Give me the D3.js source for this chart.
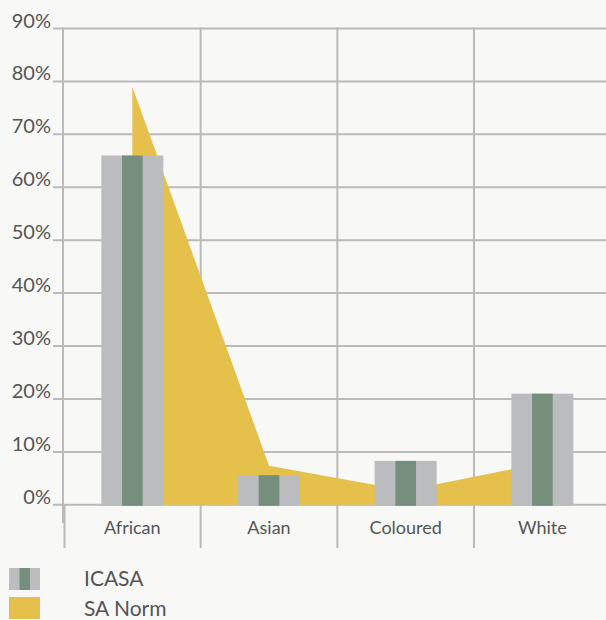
<!DOCTYPE html>
<html><head><meta charset="utf-8">
<script src="https://cdn.jsdelivr.net/npm/d3@7"></script>
<style>html,body{margin:0;padding:0;background:#f8f8f6;}svg{display:block;}</style>
</head><body>
<script>
const categories = ["African","Asian","Coloured","White"];
const icasa = [66, 5.6, 8.3, 21];
const saNorm = [79, 7.4, 2.7, 7.9];
const yTicks = [0,10,20,30,40,50,60,70,80,90];
const seriesNames = ["ICASA","SA Norm"];

const W = 606, H = 620;
const svg = d3.select("body").append("svg").attr("width", W).attr("height", H);
svg.append("rect").attr("width", W).attr("height", H).attr("fill", "#f8f8f6");

const x = d3.scaleBand().domain(categories).range([64, 610.7]).padding(0);
const y = d3.scaleLinear().domain([0, 90]).range([504.8, 28.5]);
const grid = "#bababa", font = "Lato, 'Open Sans', sans-serif", txt = "#555";

// horizontal gridlines
svg.append("g").selectAll("line").data(yTicks).join("line")
  .attr("x1", 53).attr("x2", W).attr("y1", d => y(d)).attr("y2", d => y(d))
  .attr("stroke", grid).attr("stroke-width", 2);
// vertical gridlines at band boundaries
const bounds = categories.map(c => x(c));
svg.append("g").selectAll("line").data(bounds.slice(1)).join("line")
  .attr("x1", d => d).attr("x2", d => d).attr("y1", y(90) - 1).attr("y2", 548)
  .attr("stroke", grid).attr("stroke-width", 2);
svg.append("line").attr("x1", 63).attr("x2", 63).attr("y1", y(90) - 1).attr("y2", 523)
  .attr("stroke", grid).attr("stroke-width", 2);
svg.append("line").attr("x1", 64.5).attr("x2", 64.5).attr("y1", y(0)).attr("y2", 548)
  .attr("stroke", grid).attr("stroke-width", 2);

// SA Norm area
const cx = c => x(c) + x.bandwidth() / 2;
const area = d3.area().x((d, i) => cx(categories[i])).y0(y(0)).y1(d => y(d));
svg.append("path").datum(saNorm).attr("d", area).attr("fill", "#e5c04a");

// ICASA bars (grey-green-grey stripes)
const bw = 62;
const g = svg.append("g");
categories.forEach((c, i) => {
  const x0 = cx(c) - bw / 2;
  const top = y(icasa[i]);
  const h = y(0) + 1 - top;
  g.append("rect").attr("x", x0).attr("y", top).attr("width", bw).attr("height", h).attr("fill", "#bbbcbd");
  g.append("rect").attr("x", x0 + bw / 3).attr("y", top).attr("width", bw / 3).attr("height", h).attr("fill", "#768f7d");
});

// y labels
svg.append("g").selectAll("text").data(yTicks).join("text")
  .attr("x", 51).attr("y", d => y(d) - 1).attr("text-anchor", "end")
  .attr("font-family", font).attr("font-size", 20).attr("fill", txt)
  .text(d => d + "%");
// x labels
svg.append("g").selectAll("text").data(categories).join("text")
  .attr("x", d => cx(d)).attr("y", 534).attr("text-anchor", "middle")
  .attr("font-family", font).attr("font-size", 18).attr("fill", txt)
  .text(d => d);

// legend
const lg = svg.append("g");
lg.append("rect").attr("x", 9).attr("y", 568).attr("width", 31).attr("height", 22).attr("fill", "#bbbcbd");
lg.append("rect").attr("x", 19.5).attr("y", 568).attr("width", 10.5).attr("height", 22).attr("fill", "#768f7d");
lg.append("rect").attr("x", 9).attr("y", 597).attr("width", 31).attr("height", 22).attr("fill", "#e5c04a");
lg.selectAll("text").data(seriesNames).join("text")
  .attr("x", 84).attr("y", (d, i) => 586 + i * 30)
  .attr("font-family", font).attr("font-size", 21).attr("fill", txt)
  .text(d => d);
</script>
</body></html>
